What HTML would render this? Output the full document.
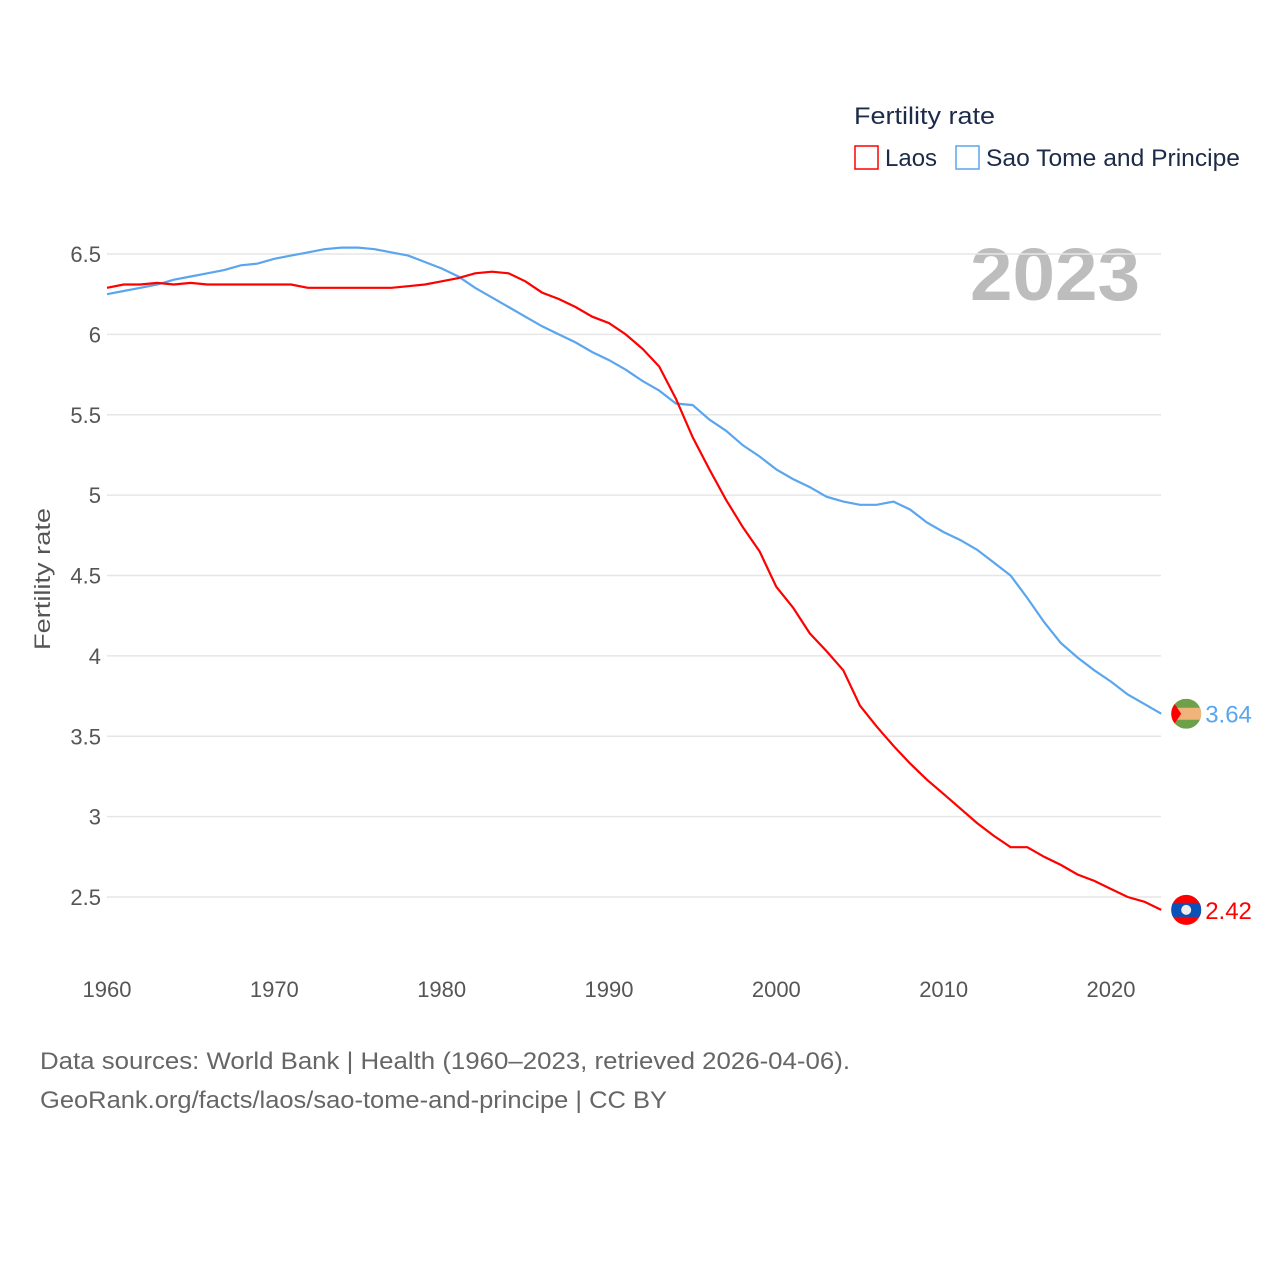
<!DOCTYPE html>
<html><head><meta charset="utf-8"><style>
body{margin:0;background:#fff;}
svg{display:block;font-family:"Liberation Sans",sans-serif;}
</style></head><body>
<svg id="chart" width="1280" height="1280" viewBox="0 0 1280 1280" xmlns="http://www.w3.org/2000/svg">
<text x="854" y="124" font-size="24" fill="#1d2b4a" textLength="141" lengthAdjust="spacingAndGlyphs">Fertility rate</text>
<g><rect x="855" y="146" width="23" height="23" fill="none" stroke="#f00" stroke-width="1.5"/><text x="885" y="166" font-size="24" fill="#1d2b4a">Laos</text></g>
<g><rect x="956" y="146" width="23" height="23" fill="none" stroke="#5aa6ee" stroke-width="1.5"/><text x="986" y="166" font-size="24" fill="#1d2b4a" textLength="254" lengthAdjust="spacingAndGlyphs">Sao Tome and Principe</text></g>
<text x="1140" y="300" font-size="74" font-weight="bold" fill="#bdbdbd" text-anchor="end" textLength="170" lengthAdjust="spacingAndGlyphs">2023</text>
<g id="grid"></g><g id="series"></g>
<text transform="translate(50,579) rotate(-90)" font-size="22" fill="#555" text-anchor="middle" textLength="142" lengthAdjust="spacingAndGlyphs">Fertility rate</text>
<text x="40" y="1069" font-size="24" fill="#666" textLength="810" lengthAdjust="spacingAndGlyphs">Data sources: World Bank | Health (1960–2023, retrieved 2026-04-06).</text>
<text x="40" y="1108" font-size="24" fill="#666" textLength="627" lengthAdjust="spacingAndGlyphs">GeoRank.org/facts/laos/sao-tome-and-principe | CC BY</text>
</svg>
<script>
const years=[];for(let y=1960;y<=2023;y++)years.push(y);
const laos=[6.29,6.31,6.31,6.32,6.31,6.32,6.31,6.31,6.31,6.31,6.31,6.31,6.29,6.29,6.29,6.29,6.29,6.29,6.30,6.31,6.33,6.35,6.38,6.39,6.38,6.33,6.26,6.22,6.17,6.11,6.07,6.00,5.91,5.80,5.60,5.36,5.16,4.97,4.80,4.65,4.43,4.30,4.14,4.03,3.91,3.69,3.56,3.44,3.33,3.23,3.14,3.05,2.96,2.88,2.81,2.81,2.75,2.70,2.64,2.60,2.55,2.50,2.47,2.42];
const stp=[6.25,6.27,6.29,6.31,6.34,6.36,6.38,6.40,6.43,6.44,6.47,6.49,6.51,6.53,6.54,6.54,6.53,6.51,6.49,6.45,6.41,6.36,6.29,6.23,6.17,6.11,6.05,6.00,5.95,5.89,5.84,5.78,5.71,5.65,5.57,5.56,5.47,5.40,5.31,5.24,5.16,5.10,5.05,4.99,4.96,4.94,4.94,4.96,4.91,4.83,4.77,4.72,4.66,4.58,4.50,4.36,4.21,4.08,3.99,3.91,3.84,3.76,3.70,3.64];
const yTicks=[2.5,3,3.5,4,4.5,5,5.5,6,6.5];
const xTicks=[1960,1970,1980,1990,2000,2010,2020];
const NS="http://www.w3.org/2000/svg";
const X=v=>107+(v-1960)*(1111-107)/60;
const Y=v=>254+(6.5-v)*(897-254)/4;
function el(t,a,p){const e=document.createElementNS(NS,t);for(const k in a)e.setAttribute(k,a[k]);p.appendChild(e);return e;}
const grid=document.getElementById('grid'),ser=document.getElementById('series');
yTicks.forEach(v=>{
 const l=el('line',{x1:107,x2:1161,y1:Y(v),y2:Y(v),stroke:'#e6e6e6','stroke-width':1.5},grid);
 
 
 const t=el('text',{x:101,y:Y(v)+8,'font-size':22,fill:'#555','text-anchor':'end'},grid);t.textContent=String(v);
 
 
});
xTicks.forEach(v=>{
 const t=el('text',{x:X(v),y:997,'font-size':22,fill:'#555','text-anchor':'middle'},grid);t.textContent=v;
 
 
});
function line(data,color,name){
 const p=el('path',{d:data.map((v,i)=>(i?'L':'M')+X(years[i]).toFixed(1)+','+Y(v).toFixed(1)).join(''),fill:'none',stroke:color,'stroke-width':2.2},ser);
 
 
}
line(stp,'#5aa6ee','line-sao-tome');
line(laos,'#f00','line-laos');
const lx=X(2023)+25;
const s=stp[stp.length-1],l=laos[laos.length-1];
const g1=el('g',{},ser);


const c1=el('clipPath',{id:'c1'},g1);
el('circle',{cx:lx,cy:Y(s),r:15},c1);
const f1=el('g',{'clip-path':'url(#c1)'},g1);
el('rect',{x:lx-15,y:Y(s)-15,width:30,height:30,fill:'#6ea04a'},f1);
el('rect',{x:lx-15,y:Y(s)-6,width:30,height:12,fill:'#f0b47a'},f1);
el('polygon',{points:`${lx-15},${Y(s)-15} ${lx-5},${Y(s)} ${lx-15},${Y(s)+15}`,fill:'#f00'},f1);
const t1=el('text',{x:lx+19,y:Y(s)+9,'font-size':24,fill:'#5aa6ee'},ser);t1.textContent=s.toFixed(2);


const g2=el('g',{},ser);


el('circle',{cx:lx,cy:Y(l),r:15,fill:'#f00'},g2);
const c2=el('clipPath',{id:'c2'},g2);
el('circle',{cx:lx,cy:Y(l),r:15},c2);
el('rect',{x:lx-15,y:Y(l)-7,width:30,height:14,fill:'#0a52b8','clip-path':'url(#c2)'},g2);
el('circle',{cx:lx,cy:Y(l),r:5,fill:'#eee'},g2);
const t2=el('text',{x:lx+19,y:Y(l)+9,'font-size':24,fill:'#f00'},ser);t2.textContent=l.toFixed(2);


</script>
</body></html>
